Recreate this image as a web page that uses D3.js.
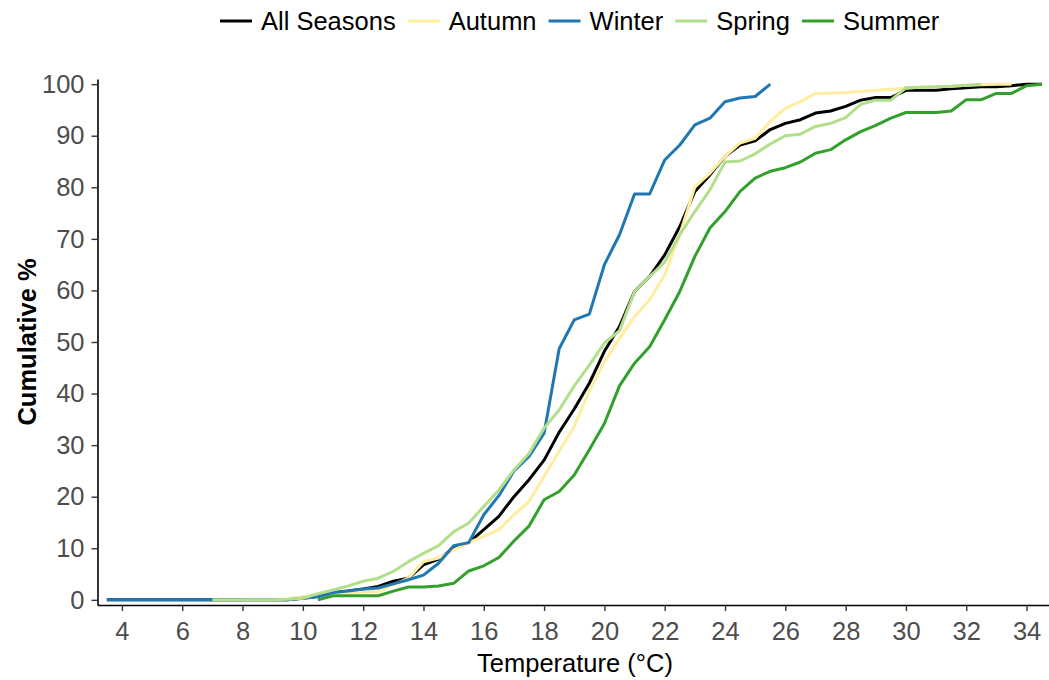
<!DOCTYPE html>
<html>
<head>
<meta charset="utf-8">
<script src="https://cdn.jsdelivr.net/npm/d3@7"></script>
<style>
  body { margin: 0; background: #fff; }
  svg { display: block; font-family: "Liberation Sans", Arial, sans-serif; }
</style>
</head>
<body>
<svg id="chart" width="1049" height="680"></svg>
<script>
// temperature bins (°C)
let temps = [3.5, 4, 4.5, 5, 5.5, 6, 6.5, 7, 7.5, 8, 8.5, 9, 9.5, 10, 10.5, 11, 11.5, 12, 12.5, 13,
    13.5, 14, 14.5, 15, 15.5, 16, 16.5, 17, 17.5, 18, 18.5, 19, 19.5, 20, 20.5, 21, 21.5, 22, 22.5,
    23, 23.5, 24, 24.5, 25, 25.5, 26, 26.5, 27, 27.5, 28, 28.5, 29, 29.5, 30, 30.5, 31, 31.5, 32,
    32.5, 33, 33.5, 34, 34.5];

// cumulative % per season, aligned with temps (null = no data)
let allSeasons = [0, 0, 0, 0, 0, 0, 0, 0, 0, 0, 0, 0, 0, 0.3, 0.7, 1.4, 1.7, 2.1, 2.6, 3.6,
    4.2, 6.8, 7.9, 10.0, 11.1, 13.6, 16.2, 20.0, 23.3, 27.1, 32.5, 37.0, 42.0, 48.2, 53.0, 59.8, 62.7, 66.9, 72.4,
    79.2, 82.4, 86.0, 88.2, 89.0, 91.2, 92.4, 93.1, 94.4, 94.8, 95.7, 96.9, 97.4, 97.4, 98.8, 98.8, 98.8, 99.1, 99.3,
    99.5, 99.5, 99.7, 100, 100];
let autumn = [null, null, null, null, null, null, null, null, null, 0, 0, 0, 0.2, 0.6, 1.0, 1.3, 1.4, 1.5, 1.6, 2.9,
    4.2, 7.4, 8.1, 9.7, 11.1, 12.3, 13.6, 16.5, 19.1, 23.9, 28.8, 33.6, 40.5, 46.2, 50.7, 54.9, 58.2, 63.0, 70.8,
    80.1, 82.7, 86.0, 88.6, 89.5, 92.8, 95.3, 96.6, 98.2, 98.3, 98.4, 98.6, 98.8, 99.0, 99.2, 99.4, 99.5, 99.6, 99.8,
    99.9, 100, 100, null, null];
let winter = [0, 0, 0, 0, 0, 0, 0, 0, 0, 0, 0, 0, 0, 0.3, 0.6, 1.4, 1.7, 2.1, 2.3, 3.1,
    3.9, 4.8, 7.1, 10.5, 11.1, 16.5, 20.2, 25.0, 27.8, 32.3, 48.7, 54.3, 55.4, 65.0, 70.8, 78.7, 78.7, 85.3, 88.2,
    92.1, 93.4, 96.6, 97.3, 97.6, 100, null, null, null, null, null, null, null, null, null, null, null, null, null,
    null, null, null, null, null];
let spring = [null, null, null, null, null, null, null, 0, 0, 0, 0, 0, 0.1, 0.3, 1.2, 1.9, 2.7, 3.6, 4.2, 5.5,
    7.4, 9.0, 10.5, 13.2, 14.9, 18.1, 21.3, 25.2, 28.4, 33.3, 36.8, 41.5, 45.5, 49.8, 52.2, 59.8, 62.7, 65.5, 70.8,
    75.3, 79.5, 84.9, 85.1, 86.5, 88.4, 90.0, 90.3, 91.8, 92.4, 93.5, 96.1, 96.9, 96.9, 99.3, 99.4, 99.5, 99.6, 99.8,
    100, null, null, null, null];
let summer = [null, null, null, null, null, null, null, null, null, null, null, null, null, null, 0, 0.8, 0.8, 0.8, 0.8, 1.7,
    2.5, 2.5, 2.7, 3.2, 5.6, 6.6, 8.2, 11.4, 14.3, 19.4, 21.0, 24.2, 29.1, 34.2, 41.5, 45.9, 49.1, 54.3, 59.8,
    66.6, 72.1, 75.3, 79.2, 81.8, 83.1, 83.8, 84.9, 86.6, 87.3, 89.2, 90.8, 92.0, 93.4, 94.5, 94.5, 94.5, 94.8, 97.0,
    97.0, 98.2, 98.2, 99.7, 100];

let seriesNames = ["All Seasons", "Autumn", "Winter", "Spring", "Summer"];
let seriesValues = [allSeasons, autumn, winter, spring, summer];
let seriesColors = ["#000000", "#ffeda0", "#1f78b4", "#b2df8a", "#33a02c"];

let xTicks = [4, 6, 8, 10, 12, 14, 16, 18, 20, 22, 24, 26, 28, 30, 32, 34];
let yTicks = [0, 10, 20, 30, 40, 50, 60, 70, 80, 90, 100];

let svg = d3.select("#chart");
let plot = {left: 97.5, right: 1051, top: 79, bottom: 605};
let fontSize = "25.5px";

let x = d3.scaleLinear().domain([3.19, 34.81]).range([plot.left, plot.right]);
let y = d3.scaleLinear().domain([-1, 101]).range([plot.bottom, plot.top]);

// axes
let xAxis = svg.append("g")
    .attr("transform", "translate(0," + plot.bottom + ")")
    .call(d3.axisBottom(x).tickValues(xTicks).tickSize(6).tickPadding(11).tickSizeOuter(0));
let yAxis = svg.append("g")
    .attr("transform", "translate(" + plot.left + ",0)")
    .call(d3.axisLeft(y).tickValues(yTicks).tickSize(6).tickPadding(7).tickSizeOuter(0));

[xAxis, yAxis].forEach(function(a) {
    a.select(".domain").attr("stroke", "#000").attr("stroke-width", 1.6);
    a.selectAll(".tick line").attr("stroke", "#333").attr("stroke-width", 1.4);
    a.selectAll(".tick text")
        .attr("fill", "#4d4d4d")
        .style("font-size", fontSize)
        .style("font-family", "'Liberation Sans', Arial, sans-serif");
});

// lines
let line = d3.line()
    .defined(function(d) { return d.v !== null; })
    .x(function(d) { return x(d.t); })
    .y(function(d) { return y(d.v); });

seriesValues.forEach(function(vals, i) {
    let pts = temps.map(function(t, j) { return {t: t, v: vals[j]}; });
    svg.append("path")
        .datum(pts)
        .attr("d", line)
        .style("fill", "none")
        .style("stroke", seriesColors[i])
        .style("stroke-width", 3)
        .style("stroke-linejoin", "round");
});

// axis titles
svg.append("text")
    .attr("x", 575).attr("y", 672)
    .attr("text-anchor", "middle")
    .style("font-size", fontSize)
    .text("Temperature (°C)");

svg.append("text")
    .attr("transform", "translate(36,342) rotate(-90)")
    .attr("text-anchor", "middle")
    .style("font-size", fontSize)
    .style("font-weight", "bold")
    .text("Cumulative %");

// legend
let legend = svg.append("g");
let lx = 220;
seriesNames.forEach(function(name, i) {
    let g = legend.append("g").attr("transform", "translate(" + lx + ",21)");
    g.append("line")
        .attr("x1", 0).attr("x2", 32)
        .attr("stroke", seriesColors[i])
        .attr("stroke-width", 3);
    let t = g.append("text")
        .attr("x", 41).attr("y", 9)
        .style("font-size", fontSize)
        .text(name);
    lx += 41 + t.node().getComputedTextLength() + 12;
});
</script>
</body>
</html>
